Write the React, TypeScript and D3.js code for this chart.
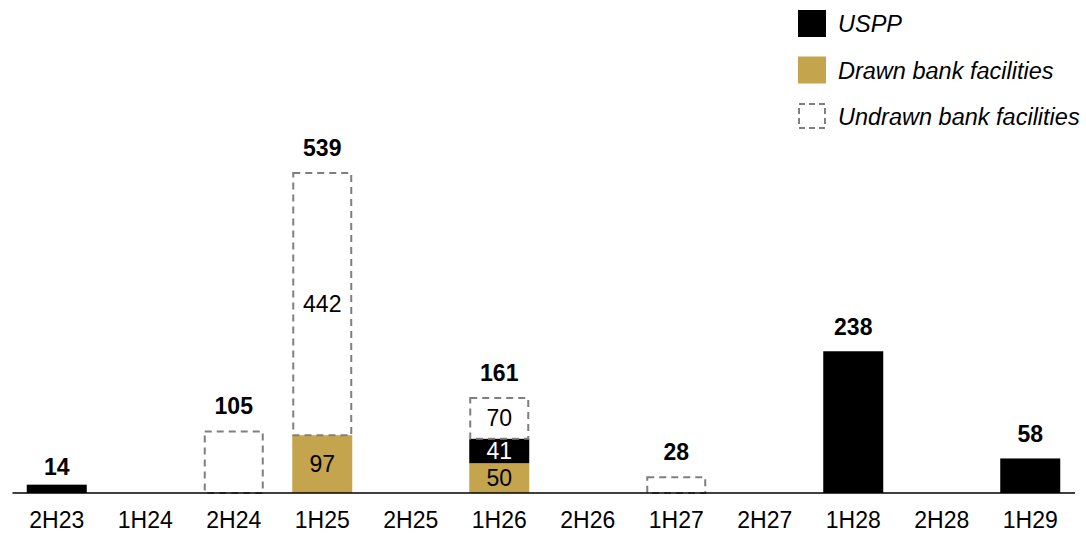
import React from "react";
import * as d3 from "d3";

const categories = ["2H23", "1H24", "2H24", "1H25", "2H25", "1H26", "2H26", "1H27", "2H27", "1H28", "2H28", "1H29"];
const drawn = [0, 0, 0, 97, 0, 50, 0, 0, 0, 0, 0, 0];
const uspp = [14, 0, 0, 0, 0, 41, 0, 0, 0, 238, 0, 58];
const undrawn = [0, 0, 105, 442, 0, 70, 0, 28, 0, 0, 0, 0];
const legendOrder = ["USPP", "Drawn bank facilities", "Undrawn bank facilities"];

const W = 1086;
const H = 533;
const FONT = "Arial, 'Liberation Sans', sans-serif";
const GOLD = "#C4A44D";
const FS = 23;

export default function App() {
  const x = d3.scaleBand<string>().domain(categories).range([12.5, 1074.5]).paddingInner(0.322).paddingOuter(0.161);
  const y = d3.scaleLinear().domain([0, 539]).range([493, 172]);

  const rows = categories.map((c, i) => ({ cat: c, drawn: drawn[i], uspp: uspp[i], undrawn: undrawn[i] }));
  const stack = d3.stack<any>().keys(["drawn", "uspp", "undrawn"]);
  const layers = stack(rows);

  const style: Record<string, any> = {
    drawn: { fill: GOLD, stroke: "none", text: "#000" },
    uspp: { fill: "#000", stroke: "none", text: "#fff" },
    undrawn: { fill: "none", stroke: "#7f7f7f", text: "#000" },
  };

  const bw = x.bandwidth();
  const totals = rows.map((r) => r.drawn + r.uspp + r.undrawn);

  const legendY = [23.5, 70, 116];
  const legendKey: Record<string, string> = { USPP: "uspp", "Drawn bank facilities": "drawn", "Undrawn bank facilities": "undrawn" };

  return (
    <div style={{ position: "absolute", left: 0, top: 0 }}>
      <svg width={W} height={H} style={{ display: "block" }} fontFamily={FONT}>
        <rect width={W} height={H} fill="#fff" />
        {layers.map((layer) => {
          const key = layer.key;
          const s = style[key];
          const nonzero = layer.filter((d) => d[1] - d[0] > 0);
          return (
            <g key={key}>
              {nonzero.map((d) => {
                const cx = x(d.data.cat)!;
                const y0 = y(d[0]);
                const y1 = y(d[1]);
                if (key === "undrawn") {
                  return (
                    <rect key={d.data.cat} x={cx + 1} y={y1 + 1} width={bw - 2} height={y0 - y1 - 1}
                      fill="none" stroke={s.stroke} strokeWidth={2} strokeDasharray="7,5" />
                  );
                }
                return <rect key={d.data.cat} x={cx} y={y1} width={bw} height={y0 - y1} fill={s.fill} />;
              })}
              {nonzero.map((d) => {
                const cnt = [d.data.drawn, d.data.uspp, d.data.undrawn].filter((v: number) => v > 0).length;
                if (cnt < 2) return null;
                const cx = x(d.data.cat)! + bw / 2;
                const ym = (y(d[0]) + y(d[1])) / 2;
                return (
                  <text key={"t" + d.data.cat} x={cx} y={ym} dy="0.36em" textAnchor="middle" fontSize={FS} fill={s.text}>
                    {d[1] - d[0]}
                  </text>
                );
              })}
            </g>
          );
        })}
        {totals.map((t, i) =>
          t > 0 ? (
            <text key={"tot" + i} x={x(categories[i])! + bw / 2} y={y(t) > 480 ? 475 : y(t) - 16}
              textAnchor="middle" fontSize={FS} fontWeight="bold" fill="#000">
              {t}
            </text>
          ) : null
        )}
        <line x1={12.5} x2={1075} y1={493} y2={493} stroke="#000" strokeWidth={1.3} />
        {categories.map((c) => (
          <text key={c} x={x(c)! + bw / 2} y={527.5} textAnchor="middle" fontSize={FS} fill="#000">
            {c}
          </text>
        ))}
        {legendOrder.map((name, i) => {
          const k = legendKey[name];
          const cy = legendY[i];
          return (
            <g key={name}>
              {k === "undrawn" ? (
                <rect x={799} y={cy - 12} width={26} height={24} fill="none" stroke="#7f7f7f" strokeWidth={2} strokeDasharray="6,4" />
              ) : (
                <rect x={798} y={cy - 13.5} width={28} height={27} fill={style[k].fill} />
              )}
              <text x={838} y={cy + 8.5} fontSize={23.5} fontStyle="italic" fill="#000">
                {name}
              </text>
            </g>
          );
        })}
      </svg>
    </div>
  );
}
